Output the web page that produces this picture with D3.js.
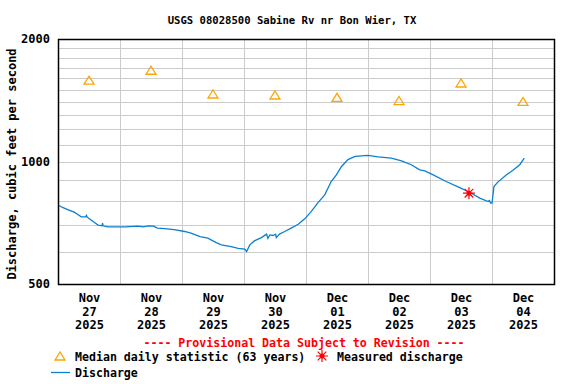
<!DOCTYPE html>
<html>
<head>
<meta charset="utf-8">
<script src="https://cdn.jsdelivr.net/npm/d3@7"></script>
<style>
  body { margin: 0; background: #fff; }
  text { font-family: "DejaVu Sans Mono", "Liberation Mono", monospace; font-weight: bold; }
</style>
</head>
<body>
<div id="chart"></div>
<script>
var svgWidth = 576;
var svgHeight = 384;

var margin = { top: 39, right: 22, bottom: 100, left: 58 };
var width = svgWidth - margin.left - margin.right;   // 496 = 8 days * 62
var height = svgHeight - margin.top - margin.bottom; // 245

// data
var dischargeTimes = [
  "2025-11-27 00:00", "2025-11-27 01:45", "2025-11-27 03:45", "2025-11-27 06:15", "2025-11-27 07:30",
  "2025-11-27 09:00", "2025-11-27 10:45", "2025-11-27 11:00", "2025-11-27 11:15", "2025-11-27 12:15",
  "2025-11-27 14:00", "2025-11-27 15:30", "2025-11-27 17:00", "2025-11-27 17:15", "2025-11-27 17:30",
  "2025-11-27 19:15", "2025-11-28 00:00", "2025-11-28 02:00", "2025-11-28 07:00", "2025-11-28 09:00",
  "2025-11-28 11:00", "2025-11-28 13:00", "2025-11-28 14:30", "2025-11-28 17:15", "2025-11-28 21:00",
  "2025-11-29 01:00", "2025-11-29 03:30", "2025-11-29 07:00", "2025-11-29 10:00", "2025-11-29 13:15",
  "2025-11-29 15:15", "2025-11-29 19:00", "2025-11-29 21:45", "2025-11-30 00:15", "2025-11-30 01:00",
  "2025-11-30 02:15", "2025-11-30 04:00", "2025-11-30 06:45", "2025-11-30 08:45", "2025-11-30 09:15",
  "2025-11-30 10:00", "2025-11-30 11:15", "2025-11-30 12:15", "2025-11-30 12:30", "2025-11-30 13:45",
  "2025-11-30 15:45", "2025-11-30 18:15", "2025-11-30 21:00", "2025-11-30 23:30", "2025-12-01 02:00",
  "2025-12-01 04:30", "2025-12-01 07:15", "2025-12-01 09:45", "2025-12-01 11:45", "2025-12-01 13:45",
  "2025-12-01 16:15", "2025-12-01 19:00", "2025-12-02 00:00", "2025-12-02 04:00", "2025-12-02 09:00",
  "2025-12-02 13:00", "2025-12-02 16:45", "2025-12-02 20:00", "2025-12-02 22:00", "2025-12-03 01:15",
  "2025-12-03 06:15", "2025-12-03 11:30", "2025-12-03 15:30", "2025-12-03 19:15", "2025-12-03 22:30",
  "2025-12-03 23:00", "2025-12-03 23:30", "2025-12-04 00:00", "2025-12-04 00:45", "2025-12-04 02:15",
  "2025-12-04 05:30", "2025-12-04 08:00", "2025-12-04 10:45", "2025-12-04 12:30"
];
var dischargeValues = [
  782, 771, 762, 751, 742,
  731, 731, 737, 731, 722,
  709, 698, 695, 705, 695,
  691, 691, 691, 694, 691,
  695, 694, 686, 684, 680,
  673, 667, 654, 648, 632,
  624, 618, 612, 609, 601,
  624, 638, 650, 663, 647,
  660, 658, 663, 650, 663,
  673, 686, 701, 723, 753,
  790, 828, 893, 927, 972,
  1011, 1029, 1035, 1027, 1019,
  1004, 982, 954, 948, 927,
  893, 863, 839, 813, 797,
  802, 790, 790, 868, 890,
  927, 950, 982, 1019
];

var medianDays = ["2025-11-27", "2025-11-28", "2025-11-29", "2025-11-30",
                  "2025-12-01", "2025-12-02", "2025-12-03", "2025-12-04"];
var medianValues = [1584, 1676, 1465, 1457, 1438, 1412, 1559, 1405];

var measuredTime = "2025-12-03 15:05";
var measuredValue = 836;

var yTicks = [500, 1000, 2000];
var yGrid = [600, 700, 800, 900, 1000, 1100, 1200, 1300, 1400, 1500, 1600, 1700, 1800, 1900];

var parseTime = d3.timeParse("%Y-%m-%d %H:%M");
var parseDay = d3.timeParse("%Y-%m-%d");

var discharge = dischargeTimes.map(function(t, i) {
  return { date: parseTime(t), value: dischargeValues[i] };
});
var medians = medianDays.map(function(t, i) {
  return { date: d3.timeHour.offset(parseDay(t), 12), value: medianValues[i] };
});

var svg = d3.select("#chart")
  .append("svg")
  .attr("width", svgWidth)
  .attr("height", svgHeight);

var chartGroup = svg.append("g")
  .attr("transform", `translate(${margin.left},${margin.top})`);

var xScale = d3.scaleTime()
  .domain([parseDay("2025-11-27"), parseDay("2025-12-05")])
  .range([0, width]);

var yScale = d3.scaleLog()
  .domain([500, 2000])
  .range([height, 0]);

// grid
chartGroup.append("g")
  .attr("class", "grid")
  .selectAll("line.h")
  .data(yGrid)
  .enter()
  .append("line")
  .attr("x1", 0)
  .attr("x2", width)
  .attr("y1", d => Math.round(yScale(d)) + 0.5)
  .attr("y2", d => Math.round(yScale(d)) + 0.5)
  .attr("stroke", "#cccccc")
  .attr("stroke-width", 1);

var dayBreaks = d3.timeDay.range(d3.timeDay.offset(parseDay("2025-11-27"), 1), parseDay("2025-12-05"));
chartGroup.append("g")
  .selectAll("line")
  .data(dayBreaks)
  .enter()
  .append("line")
  .attr("x1", d => Math.round(xScale(d)) + 0.5)
  .attr("x2", d => Math.round(xScale(d)) + 0.5)
  .attr("y1", 0)
  .attr("y2", height)
  .attr("stroke", "#cccccc")
  .attr("stroke-width", 1);

// discharge line
var line = d3.line()
  .x(d => xScale(d.date))
  .y(d => yScale(d.value));

chartGroup.append("path")
  .datum(discharge)
  .attr("d", line)
  .attr("fill", "none")
  .attr("stroke", "#0a80d0")
  .attr("stroke-width", 1.3);

// median triangles
var triPath = "M-5,4L0,-4L5,4Z";
chartGroup.selectAll("path.median")
  .data(medians)
  .enter()
  .append("path")
  .attr("class", "median")
  .attr("d", triPath)
  .attr("transform", d => `translate(${xScale(d.date)},${yScale(d.value)})`)
  .attr("fill", "none")
  .attr("stroke", "#ffa500")
  .attr("stroke-width", 1.3);

// measured discharge asterisk
function asterisk(g) {
  var r = 6, q = 4.3;
  g.append("path")
    .attr("d", `M${-r},0L${r},0M0,${-r}L0,${r}M${-q},${-q}L${q},${q}M${-q},${q}L${q},${-q}`)
    .attr("stroke", "#ff0000")
    .attr("stroke-width", 1.2)
    .attr("fill", "none");
  g.append("circle").attr("r", 2.5).attr("fill", "#ff0000");
}

chartGroup.append("g")
  .attr("transform", `translate(${xScale(parseTime(measuredTime))},${yScale(measuredValue)})`)
  .call(asterisk);

// border
chartGroup.append("rect")
  .attr("x", 0.5)
  .attr("y", 0.5)
  .attr("width", width)
  .attr("height", height)
  .attr("fill", "none")
  .attr("stroke", "#000")
  .attr("stroke-width", 1.5);

// y axis labels
var leftAxis = d3.axisLeft(yScale)
  .tickValues(yTicks)
  .tickSize(0)
  .tickPadding(8)
  .tickFormat(d3.format("d"));

var yAxisG = chartGroup.append("g").call(leftAxis);
yAxisG.select(".domain").remove();
yAxisG.selectAll("text")
  .attr("font-size", "12px")
  .attr("font-family", "'DejaVu Sans Mono', monospace")
  .attr("fill", "#000");

// x axis labels (three lines each)
var bottomAxis = d3.axisBottom(xScale)
  .tickValues(medians.map(d => d.date))
  .tickSize(0)
  .tickFormat("");

var xAxisG = chartGroup.append("g")
  .attr("transform", `translate(0,${height})`)
  .call(bottomAxis);
xAxisG.select(".domain").remove();

var fmtMon = d3.timeFormat("%b"), fmtDay = d3.timeFormat("%d"), fmtYear = d3.timeFormat("%Y");
xAxisG.selectAll(".tick").each(function(d) {
  var t = d3.select(this).append("text")
    .attr("text-anchor", "middle")
    .attr("font-size", "12px")
    .attr("fill", "#000");
  [fmtMon(d), fmtDay(d), fmtYear(d)].forEach(function(s, i) {
    t.append("tspan").attr("x", 0).attr("y", 18 + i * 13.5).text(s);
  });
});

// title
svg.append("text")
  .attr("x", 292)
  .attr("y", 24)
  .attr("text-anchor", "middle")
  .attr("font-size", "10.6px")
  .attr("fill", "#000")
  .text("USGS 08028500 Sabine Rv nr Bon Wier, TX");

// y axis title
svg.append("text")
  .attr("transform", "translate(16,164) rotate(-90)")
  .attr("text-anchor", "middle")
  .attr("font-size", "12px")
  .attr("fill", "#000")
  .text("Discharge, cubic feet per second");

// provisional note
svg.append("text")
  .attr("x", 304)
  .attr("y", 347)
  .attr("text-anchor", "middle")
  .attr("font-size", "11.6px")
  .attr("fill", "#ff0000")
  .text("---- Provisional Data Subject to Revision ----");

// legend
var legend = svg.append("g");
legend.append("path")
  .attr("d", triPath)
  .attr("transform", "translate(60,356)")
  .attr("fill", "none")
  .attr("stroke", "#ffa500")
  .attr("stroke-width", 1.3);
legend.append("text")
  .attr("x", 75).attr("y", 361)
  .attr("font-size", "11.6px")
  .text("Median daily statistic (63 years)");

legend.append("g")
  .attr("transform", "translate(322,356)")
  .call(asterisk);
legend.append("text")
  .attr("x", 337).attr("y", 361)
  .attr("font-size", "11.6px")
  .text("Measured discharge");

legend.append("line")
  .attr("x1", 51).attr("x2", 70)
  .attr("y1", 372.5).attr("y2", 372.5)
  .attr("stroke", "#0a80d0")
  .attr("stroke-width", 1.3);
legend.append("text")
  .attr("x", 75).attr("y", 377)
  .attr("font-size", "11.6px")
  .text("Discharge");
</script>
</body>
</html>
